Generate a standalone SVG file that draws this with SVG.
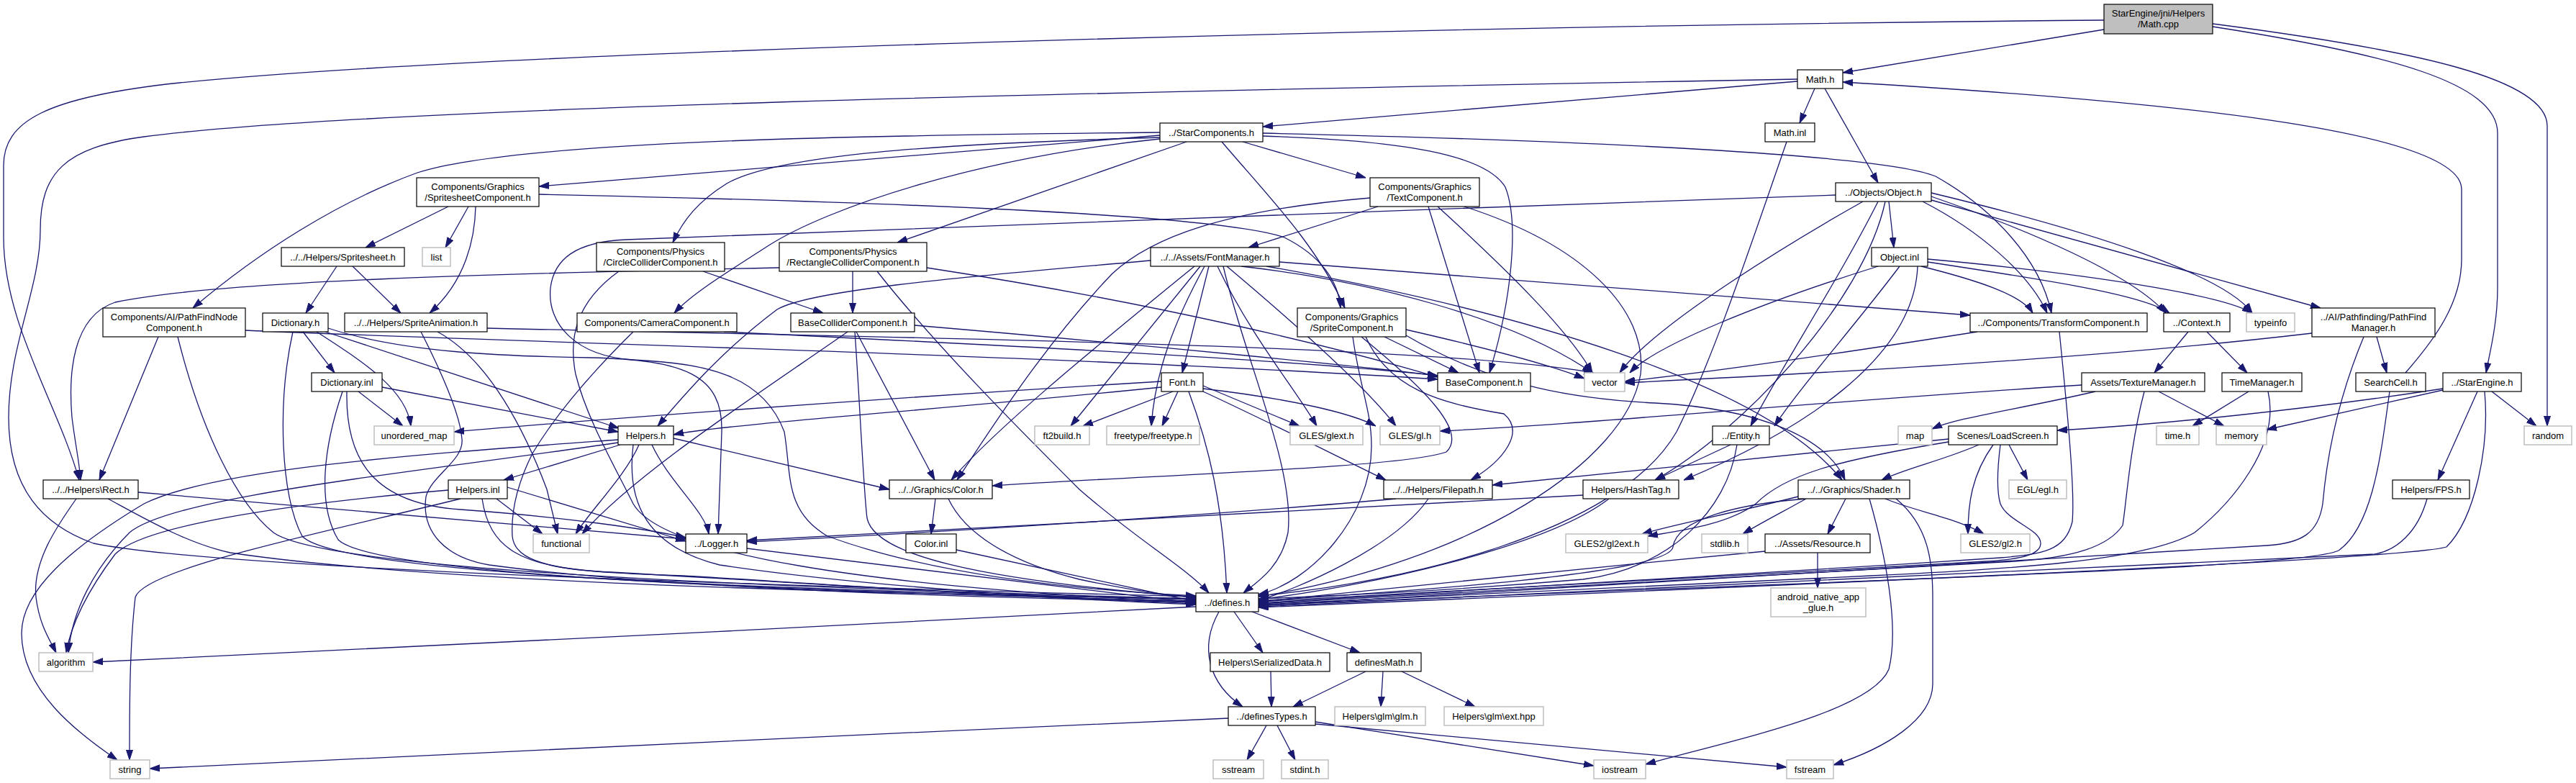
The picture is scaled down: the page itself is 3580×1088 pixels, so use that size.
<svg xmlns="http://www.w3.org/2000/svg" width="3580" height="1088" viewBox="0 0 3580 1088">
<style>
.n rect{fill:#fff;stroke:#000;stroke-width:1.2}
.g rect{fill:#fff;stroke:#bfbfbf;stroke-width:1.5}
.m rect{fill:#bfbfbf;stroke:#000;stroke-width:1.2}
text{font-family:"Liberation Sans",Arial,sans-serif;font-size:13px;text-anchor:middle;fill:#000}
#edges path{fill:none;stroke:#191970;stroke-width:1.3;marker-end:url(#a)}
</style>
<defs>
<marker id="a" viewBox="0 0 14 10" refX="14" refY="5" markerWidth="14" markerHeight="10" orient="auto" markerUnits="userSpaceOnUse"><path d="M0,0.5 L14,5 L0,9.5 z" fill="#191970" stroke="#191970" stroke-width="1"/></marker>
</defs>
<rect width="3580" height="1088" fill="#fff"/>
<g id="edges">
<path d="M2924,41 L2561,101"/>
<path d="M2924,28 C2000,36 700,70 250,115 C60,135 5,170 5,230 L5,330 C5,450 80,560 110,667"/>
<path d="M3075,37 C3320,75 3471,115 3471,185 L3471,400 C3471,450 3460,490 3455,518"/>
<path d="M3075,33 C3360,70 3540,110 3540,175 L3540,592"/>
<path d="M2498,113 L1755,176"/>
<path d="M2522,123 L2501,171"/>
<path d="M2536,123 L2610,254"/>
<path d="M2498,110 C1500,128 500,150 200,190 C90,205 56,240 56,320 C56,400 12,480 12,580 C12,680 60,730 130,755 C300,790 1100,815 1662,829"/>
<path d="M3343,518 C3385,470 3421,420 3421,360 L3421,263 C3421,180 3000,140 2561,114"/>
<path d="M2483,197 C2430,350 2380,500 2330,600 C2250,740 1950,810 1749,828"/>
<path d="M1612,184 C1200,188 720,195 580,240 C470,280 360,350 268,428"/>
<path d="M1612,188 L749,259"/>
<path d="M1612,191 C1300,200 1080,215 1010,255 C970,280 950,305 935,337"/>
<path d="M1612,193 C1350,220 1150,290 1070,340 C1000,385 960,410 937,435"/>
<path d="M1649,197 L1247,337"/>
<path d="M1698,197 C1760,270 1830,340 1869,428"/>
<path d="M1727,197 L1898,247"/>
<path d="M1755,185 C2200,195 2620,215 2690,245 C2770,290 2835,360 2851,435"/>
<path d="M1755,189 C1950,195 2065,215 2092,260 C2112,310 2100,420 2070,518"/>
<path d="M623,287 L508,344"/>
<path d="M651,287 L619,344"/>
<path d="M661,287 C660,330 648,390 597,435"/>
<path d="M749,270 C1300,282 1700,300 1785,330 C1835,355 1860,390 1863,428"/>
<path d="M1915,287 L1735,344"/>
<path d="M1904,275 C1700,292 1600,330 1546,380 C1450,480 1375,600 1330,667"/>
<path d="M1985,287 L2056,518"/>
<path d="M1998,287 C2100,380 2180,460 2213,518"/>
<path d="M2035,287 C2200,340 2290,430 2280,520 C2260,640 2050,780 1749,829"/>
<path d="M2625,280 L2632,344"/>
<path d="M2589,280 C2500,330 2300,450 2251,518"/>
<path d="M2672,280 C2750,320 2820,380 2845,435"/>
<path d="M2684,273 C2820,320 2960,380 3010,435"/>
<path d="M2684,268 C2900,320 3090,380 3130,435"/>
<path d="M2684,278 L3225,428"/>
<path d="M2610,280 C2560,380 2470,520 2433,592"/>
<path d="M2620,280 C2590,420 2420,600 2300,667"/>
<path d="M2551,271 C2000,290 1200,320 870,333 C800,336 770,360 765,400 C760,450 800,495 880,500 C980,505 1060,520 1090,600 C1100,660 1090,710 1150,745 C1300,800 1500,820 1662,828"/>
<path d="M468,370 L425,435"/>
<path d="M490,370 L557,435"/>
<path d="M977,377 L1144,435"/>
<path d="M860,377 C800,420 790,470 800,520 C815,580 850,640 880,700 C920,770 1200,815 1662,837"/>
<path d="M1185,377 L1185,435"/>
<path d="M1083,372 C700,380 300,390 160,420 C100,440 95,520 100,580 C105,620 110,640 112,667"/>
<path d="M1219,377 C1300,480 1420,600 1500,680 C1580,750 1650,790 1680,824"/>
<path d="M1288,372 C1600,420 1850,480 1998,524"/>
<path d="M1271,452 C1600,480 1900,510 1998,522"/>
<path d="M1190,461 L1299,667"/>
<path d="M1178,461 C1050,550 880,660 809,742"/>
<path d="M1188,461 C1195,560 1200,680 1205,720 C1215,770 1350,805 1662,830"/>
<path d="M1680,370 L1643,518"/>
<path d="M1668,370 L1488,592"/>
<path d="M1674,370 C1630,450 1605,520 1600,592"/>
<path d="M1660,370 C1500,500 1380,600 1322,667"/>
<path d="M1599,362 C1400,380 1130,400 1080,430 C1000,490 950,550 914,592"/>
<path d="M1692,370 C1740,470 1800,540 1830,592"/>
<path d="M1705,370 C1800,450 1900,540 1940,592"/>
<path d="M1725,370 C1900,390 2100,440 2213,518"/>
<path d="M1778,364 L2738,438"/>
<path d="M1760,370 C2100,430 2450,530 2560,667"/>
<path d="M1700,370 C1730,500 1800,650 1790,740 C1780,790 1745,810 1728,824"/>
<path d="M1630,544 L1505,592"/>
<path d="M1637,544 L1615,592"/>
<path d="M1614,538 C1300,570 1000,590 936,604"/>
<path d="M1614,530 C1200,555 800,585 631,600"/>
<path d="M1672,536 L1806,592"/>
<path d="M1672,540 C1800,555 1880,575 1912,592"/>
<path d="M1672,544 C1750,580 1850,630 1926,667"/>
<path d="M1652,544 C1680,620 1700,700 1705,824"/>
<path d="M220,468 L138,667"/>
<path d="M341,459 C700,475 1500,495 1998,527"/>
<path d="M247,468 C280,600 330,700 380,740 C450,790 1000,815 1662,832"/>
<path d="M421,461 L465,518"/>
<path d="M440,461 C500,500 565,540 571,592"/>
<path d="M452,461 L860,595"/>
<path d="M456,456 C560,490 700,495 820,497 C950,500 1005,520 1003,600 L998,742"/>
<path d="M407,461 C385,560 390,690 420,745 C470,800 1100,820 1662,833"/>
<path d="M498,544 L560,592"/>
<path d="M531,538 L859,600"/>
<path d="M482,544 C480,640 520,700 640,708 C780,718 900,735 953,747"/>
<path d="M476,544 C450,620 440,700 470,750 C520,800 1100,822 1662,835"/>
<path d="M608,461 C680,500 730,600 760,680 L775,742"/>
<path d="M677,456 C1300,470 2000,480 2215,518"/>
<path d="M585,461 C620,530 640,580 642,610 C645,640 600,660 592,690 C585,740 620,775 680,785 C900,815 1300,830 1662,836"/>
<path d="M1006,461 C1400,480 1800,500 1998,522"/>
<path d="M880,461 C820,520 770,580 740,630 C720,670 710,710 712,745 C716,790 800,795 950,800 C1200,815 1450,832 1662,837"/>
<path d="M862,618 L700,667"/>
<path d="M888,618 C870,660 820,710 800,742"/>
<path d="M906,618 C930,670 980,710 985,742"/>
<path d="M859,611 C600,630 300,650 200,700 C100,760 30,820 30,880 C30,960 110,1020 163,1056"/>
<path d="M859,615 C550,660 240,690 180,740 C130,790 100,850 95,907"/>
<path d="M936,609 L1236,680"/>
<path d="M880,618 C870,700 900,760 1000,785 C1200,815 1450,830 1662,839"/>
<path d="M705,677 L953,752"/>
<path d="M690,693 L754,742"/>
<path d="M640,693 C450,740 200,790 188,830 C180,900 180,980 180,1056"/>
<path d="M623,681 C400,700 200,730 160,770 C130,810 100,860 92,907"/>
<path d="M670,693 C680,760 720,790 850,795 C1200,815 1450,832 1662,840"/>
<path d="M106,693 C80,730 45,780 50,830 C55,870 70,890 78,907"/>
<path d="M192,684 C500,710 800,735 953,749"/>
<path d="M150,693 C200,720 260,755 320,768 C600,810 1200,825 1662,832"/>
<path d="M1300,693 L1294,742"/>
<path d="M1318,693 C1340,740 1400,780 1500,805 C1580,822 1630,828 1662,830"/>
<path d="M1329,764 L1662,836"/>
<path d="M1038,762 L1662,838"/>
<path d="M1924,468 L2027,518"/>
<path d="M1954,458 C2050,480 2150,505 2202,526"/>
<path d="M1898,468 C1930,540 2000,560 2090,575 C2120,600 2090,640 2044,667"/>
<path d="M1954,466 C2080,540 2200,555 2300,560 C2450,568 2540,610 2564,667"/>
<path d="M1892,468 C1980,540 2040,600 2010,628 C1950,650 1600,660 1379,675"/>
<path d="M1880,468 C1890,540 1906,570 1906,620 C1906,720 1820,810 1749,826"/>
<path d="M2679,364 C2850,390 2980,410 3015,435"/>
<path d="M2670,370 C2750,390 2810,410 2825,435"/>
<path d="M2679,360 C2900,380 3090,410 3130,435"/>
<path d="M2610,370 C2450,420 2300,480 2265,518"/>
<path d="M2640,370 C2580,450 2500,540 2466,592"/>
<path d="M2665,370 C2660,500 2500,600 2340,667"/>
<path d="M2748,461 C2500,500 2350,520 2258,530"/>
<path d="M2862,461 C2872,560 2884,680 2880,725 C2870,765 2840,770 2780,775 C2400,800 2000,825 1749,838"/>
<path d="M3303,468 L3317,518"/>
<path d="M3213,463 C2900,500 2500,520 2258,532"/>
<path d="M3285,468 C3255,540 3235,620 3228,700 C3222,740 3200,755 3150,758 C3000,765 2400,800 1749,842"/>
<path d="M3041,461 L2994,518"/>
<path d="M3067,461 L3123,518"/>
<path d="M2893,535 C2500,560 2200,590 2001,599"/>
<path d="M2912,544 C2800,570 2720,580 2685,596"/>
<path d="M3000,544 L3091,592"/>
<path d="M2980,544 C2960,620 2955,700 2950,730 C2930,760 2880,775 2800,780 C2400,805 2000,828 1749,839"/>
<path d="M3125,544 L3047,592"/>
<path d="M3152,544 C3170,620 3100,700 3050,740 C2980,780 2800,790 2600,800 C2200,820 1950,832 1749,840"/>
<path d="M3321,544 C3310,620 3300,730 3250,765 C3200,790 2600,805 1749,841"/>
<path d="M3395,540 C3200,570 3000,590 2859,598"/>
<path d="M3395,542 L3150,597"/>
<path d="M3463,544 L3525,592"/>
<path d="M3443,544 L3388,667"/>
<path d="M3453,544 C3460,620 3440,720 3400,760 C3350,775 2800,800 1749,844"/>
<path d="M3373,693 C3360,740 3330,765 3300,770 C3000,785 2400,815 1749,843"/>
<path d="M2792,618 L2818,667"/>
<path d="M2750,618 C2700,640 2650,650 2615,667"/>
<path d="M2708,610 C2400,640 2200,660 2074,674"/>
<path d="M2708,614 C2550,640 2480,660 2440,700 C2400,730 2330,738 2290,745"/>
<path d="M2770,618 C2740,660 2735,700 2735,742"/>
<path d="M2780,618 C2776,650 2774,680 2780,700 C2790,725 2836,735 2836,755 C2836,775 2790,778 2760,780 C2400,800 2000,825 1749,836"/>
<path d="M2405,618 L2300,667"/>
<path d="M2414,618 C2400,710 2320,790 2200,805 C2000,822 1850,828 1749,832"/>
<path d="M2200,688 L1038,751"/>
<path d="M2236,693 C2150,760 1900,815 1749,833"/>
<path d="M1940,693 C1700,715 1300,740 1038,753"/>
<path d="M1985,693 C1940,760 1800,820 1749,834"/>
<path d="M2510,693 C2480,710 2450,725 2422,742"/>
<path d="M2565,693 L2540,742"/>
<path d="M2499,690 C2400,715 2320,730 2282,742"/>
<path d="M2620,693 C2660,710 2720,720 2757,742"/>
<path d="M2598,693 C2620,770 2640,870 2625,930 C2600,990 2400,1030 2287,1062"/>
<path d="M2635,693 C2680,730 2686,780 2686,830 L2686,950 C2686,1000 2620,1040 2548,1063"/>
<path d="M2510,693 C2420,700 2330,720 2325,760 C2320,800 1900,825 1749,835"/>
<path d="M2526,768 L2526,817"/>
<path d="M2453,766 C2200,790 1900,820 1749,836"/>
<path d="M1662,843 C1200,870 500,900 129,920"/>
<path d="M1715,850 L1755,907"/>
<path d="M1740,850 L1890,907"/>
<path d="M1694,850 C1666,900 1680,950 1727,982"/>
<path d="M1766,933 L1767,982"/>
<path d="M1898,933 L1797,982"/>
<path d="M1922,933 L1919,982"/>
<path d="M1948,933 L2050,982"/>
<path d="M1707,998 C1200,1020 600,1050 208,1068"/>
<path d="M1760,1008 L1733,1056"/>
<path d="M1775,1008 L1800,1056"/>
<path d="M1828,1003 L2215,1064"/>
<path d="M1828,1006 L2483,1066"/>
</g>
<g id="n_cpp" class="m"><rect x="2924" y="6" width="151" height="41"/><text x="2999.5" y="22.5">StarEngine/jni/Helpers</text><text x="2999.5" y="37.5">/Math.cpp</text></g>
<g id="n_mathh" class="n"><rect x="2498" y="97" width="63" height="26"/><text x="2529.5" y="114.5">Math.h</text></g>
<g id="n_starcomp" class="n"><rect x="1612" y="171" width="143" height="26"/><text x="1683.5" y="188.5">../StarComponents.h</text></g>
<g id="n_mathinl" class="n"><rect x="2453" y="171" width="69" height="26"/><text x="2487.5" y="188.5">Math.inl</text></g>
<g id="n_ssc" class="n"><rect x="579" y="247" width="170" height="40"/><text x="664" y="263.5">Components/Graphics</text><text x="664" y="278.5">/SpritesheetComponent.h</text></g>
<g id="n_textc" class="n"><rect x="1904" y="247" width="152" height="40"/><text x="1980" y="263.5">Components/Graphics</text><text x="1980" y="278.5">/TextComponent.h</text></g>
<g id="n_object" class="n"><rect x="2551" y="254" width="133" height="26"/><text x="2617.5" y="271.5">../Objects/Object.h</text></g>
<g id="n_spritesheet" class="n"><rect x="391" y="344" width="171" height="26"/><text x="476.5" y="361.5">../../Helpers/Spritesheet.h</text></g>
<g id="n_list" class="g"><rect x="587" y="344" width="39" height="26"/><text x="606.5" y="361.5">list</text></g>
<g id="n_circle" class="n"><rect x="829" y="337" width="178" height="40"/><text x="918" y="353.5">Components/Physics</text><text x="918" y="368.5">/CircleColliderComponent.h</text></g>
<g id="n_rectc" class="n"><rect x="1083" y="337" width="205" height="40"/><text x="1185.5" y="353.5">Components/Physics</text><text x="1185.5" y="368.5">/RectangleColliderComponent.h</text></g>
<g id="n_fontmgr" class="n"><rect x="1599" y="344" width="179" height="26"/><text x="1688.5" y="361.5">../../Assets/FontManager.h</text></g>
<g id="n_objinl" class="n"><rect x="2601" y="344" width="78" height="26"/><text x="2640" y="361.5">Object.inl</text></g>
<g id="n_pfn" class="n"><rect x="143" y="428" width="198" height="40"/><text x="242" y="444.5">Components/AI/PathFindNode</text><text x="242" y="459.5">Component.h</text></g>
<g id="n_dict" class="n"><rect x="365" y="435" width="91" height="26"/><text x="410.5" y="452.5">Dictionary.h</text></g>
<g id="n_sanim" class="n"><rect x="479" y="435" width="198" height="26"/><text x="578" y="452.5">../../Helpers/SpriteAnimation.h</text></g>
<g id="n_camera" class="n"><rect x="802" y="435" width="222" height="26"/><text x="913" y="452.5">Components/CameraComponent.h</text></g>
<g id="n_basecoll" class="n"><rect x="1099" y="435" width="172" height="26"/><text x="1185" y="452.5">BaseColliderComponent.h</text></g>
<g id="n_spritec" class="n"><rect x="1803" y="428" width="151" height="40"/><text x="1878.5" y="444.5">Components/Graphics</text><text x="1878.5" y="459.5">/SpriteComponent.h</text></g>
<g id="n_transform" class="n"><rect x="2738" y="435" width="246" height="26"/><text x="2861" y="452.5">../Components/TransformComponent.h</text></g>
<g id="n_context" class="n"><rect x="3007" y="435" width="92" height="26"/><text x="3053" y="452.5">../Context.h</text></g>
<g id="n_typeinfo" class="g"><rect x="3122" y="435" width="67" height="26"/><text x="3155.5" y="452.5">typeinfo</text></g>
<g id="n_pfm" class="n"><rect x="3213" y="428" width="171" height="40"/><text x="3298.5" y="444.5">../AI/Pathfinding/PathFind</text><text x="3298.5" y="459.5">Manager.h</text></g>
<g id="n_dictinl" class="n"><rect x="433" y="518" width="98" height="26"/><text x="482" y="535.5">Dictionary.inl</text></g>
<g id="n_font" class="n"><rect x="1614" y="518" width="58" height="26"/><text x="1643" y="535.5">Font.h</text></g>
<g id="n_basecomp" class="n"><rect x="1998" y="518" width="129" height="26"/><text x="2062.5" y="535.5">BaseComponent.h</text></g>
<g id="n_vector" class="g"><rect x="2202" y="518" width="56" height="26"/><text x="2230" y="535.5">vector</text></g>
<g id="n_texmgr" class="n"><rect x="2893" y="518" width="171" height="26"/><text x="2978.5" y="535.5">Assets/TextureManager.h</text></g>
<g id="n_timemgr" class="n"><rect x="3088" y="518" width="111" height="26"/><text x="3143.5" y="535.5">TimeManager.h</text></g>
<g id="n_searchcell" class="n"><rect x="3274" y="518" width="97" height="26"/><text x="3322.5" y="535.5">SearchCell.h</text></g>
<g id="n_starengine" class="n"><rect x="3395" y="518" width="109" height="26"/><text x="3449.5" y="535.5">../StarEngine.h</text></g>
<g id="n_umap" class="g"><rect x="520" y="592" width="111" height="26"/><text x="575.5" y="609.5">unordered_map</text></g>
<g id="n_helpers" class="n"><rect x="859" y="592" width="77" height="26"/><text x="897.5" y="609.5">Helpers.h</text></g>
<g id="n_ft2build" class="g"><rect x="1438" y="592" width="76" height="26"/><text x="1476" y="609.5">ft2build.h</text></g>
<g id="n_freetype" class="g"><rect x="1538" y="592" width="129" height="26"/><text x="1602.5" y="609.5">freetype/freetype.h</text></g>
<g id="n_glext" class="g"><rect x="1793" y="592" width="101" height="26"/><text x="1843.5" y="609.5">GLES/glext.h</text></g>
<g id="n_gl" class="g"><rect x="1918" y="592" width="83" height="26"/><text x="1959.5" y="609.5">GLES/gl.h</text></g>
<g id="n_entity" class="n"><rect x="2380" y="592" width="79" height="26"/><text x="2419.5" y="609.5">../Entity.h</text></g>
<g id="n_map" class="g"><rect x="2638" y="592" width="47" height="26"/><text x="2661.5" y="609.5">map</text></g>
<g id="n_loadscreen" class="n"><rect x="2708" y="592" width="151" height="26"/><text x="2783.5" y="609.5">Scenes/LoadScreen.h</text></g>
<g id="n_timeh" class="g"><rect x="2997" y="592" width="59" height="26"/><text x="3026.5" y="609.5">time.h</text></g>
<g id="n_memory" class="g"><rect x="3080" y="592" width="70" height="26"/><text x="3115" y="609.5">memory</text></g>
<g id="n_random" class="g"><rect x="3508" y="592" width="66" height="26"/><text x="3541" y="609.5">random</text></g>
<g id="n_recth" class="n"><rect x="60" y="667" width="132" height="26"/><text x="126" y="684.5">../../Helpers\Rect.h</text></g>
<g id="n_helpersinl" class="n"><rect x="623" y="667" width="82" height="26"/><text x="664" y="684.5">Helpers.inl</text></g>
<g id="n_color" class="n"><rect x="1236" y="667" width="143" height="26"/><text x="1307.5" y="684.5">../../Graphics/Color.h</text></g>
<g id="n_filepath" class="n"><rect x="1923" y="667" width="151" height="26"/><text x="1998.5" y="684.5">../../Helpers/Filepath.h</text></g>
<g id="n_hashtag" class="n"><rect x="2200" y="667" width="133" height="26"/><text x="2266.5" y="684.5">Helpers/HashTag.h</text></g>
<g id="n_shader" class="n"><rect x="2499" y="667" width="155" height="26"/><text x="2576.5" y="684.5">../../Graphics/Shader.h</text></g>
<g id="n_egl" class="g"><rect x="2792" y="667" width="80" height="26"/><text x="2832" y="684.5">EGL/egl.h</text></g>
<g id="n_fps" class="n"><rect x="3325" y="667" width="107" height="26"/><text x="3378.5" y="684.5">Helpers/FPS.h</text></g>
<g id="n_functional" class="g"><rect x="741" y="742" width="78" height="26"/><text x="780" y="759.5">functional</text></g>
<g id="n_logger" class="n"><rect x="953" y="742" width="85" height="26"/><text x="995.5" y="759.5">../Logger.h</text></g>
<g id="n_colorinl" class="n"><rect x="1259" y="742" width="70" height="26"/><text x="1294" y="759.5">Color.inl</text></g>
<g id="n_gl2ext" class="g"><rect x="2176" y="742" width="114" height="26"/><text x="2233" y="759.5">GLES2/gl2ext.h</text></g>
<g id="n_stdlib" class="g"><rect x="2365" y="742" width="64" height="26"/><text x="2397" y="759.5">stdlib.h</text></g>
<g id="n_resource" class="n"><rect x="2453" y="742" width="146" height="26"/><text x="2526" y="759.5">../Assets/Resource.h</text></g>
<g id="n_gl2" class="g"><rect x="2725" y="742" width="96" height="26"/><text x="2773" y="759.5">GLES2/gl2.h</text></g>
<g id="n_defines" class="n"><rect x="1662" y="824" width="87" height="26"/><text x="1705.5" y="841.5">../defines.h</text></g>
<g id="n_glue" class="g"><rect x="2461" y="817" width="132" height="40"/><text x="2527" y="833.5">android_native_app</text><text x="2527" y="848.5">_glue.h</text></g>
<g id="n_algorithm" class="g"><rect x="54" y="907" width="75" height="26"/><text x="91.5" y="924.5">algorithm</text></g>
<g id="n_serialized" class="n"><rect x="1682" y="907" width="166" height="26"/><text x="1765" y="924.5">Helpers\SerializedData.h</text></g>
<g id="n_definesmath" class="n"><rect x="1872" y="907" width="103" height="26"/><text x="1923.5" y="924.5">definesMath.h</text></g>
<g id="n_definestypes" class="n"><rect x="1707" y="982" width="121" height="26"/><text x="1767.5" y="999.5">../definesTypes.h</text></g>
<g id="n_glm" class="g"><rect x="1855" y="982" width="126" height="26"/><text x="1918" y="999.5">Helpers\glm\glm.h</text></g>
<g id="n_ext" class="g"><rect x="2007" y="982" width="138" height="26"/><text x="2076" y="999.5">Helpers\glm\ext.hpp</text></g>
<g id="n_string" class="g"><rect x="153" y="1056" width="55" height="26"/><text x="180.5" y="1073.5">string</text></g>
<g id="n_sstream" class="g"><rect x="1686" y="1056" width="70" height="26"/><text x="1721" y="1073.5">sstream</text></g>
<g id="n_stdint" class="g"><rect x="1781" y="1056" width="65" height="26"/><text x="1813.5" y="1073.5">stdint.h</text></g>
<g id="n_iostream" class="g"><rect x="2215" y="1056" width="72" height="26"/><text x="2251" y="1073.5">iostream</text></g>
<g id="n_fstream" class="g"><rect x="2483" y="1056" width="65" height="26"/><text x="2515.5" y="1073.5">fstream</text></g>
</svg>
